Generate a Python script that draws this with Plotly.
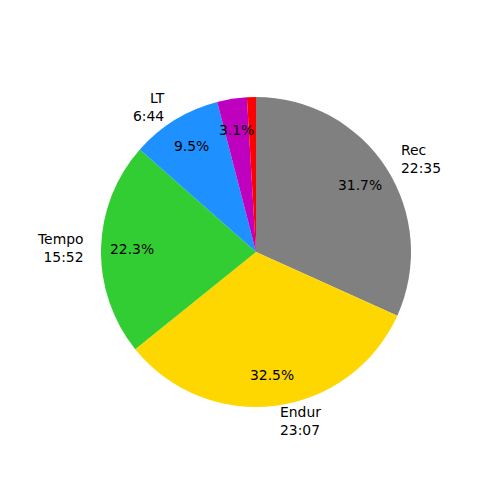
import math
import plotly.graph_objects as go

# Data
labels = ["Rec", "Endur", "Tempo", "LT", "", ""]
seconds = [1355, 1387, 952, 404, 132, 40]
colors = ["#808080", "#FFD700", "#32CD32", "#1E90FF", "#BF00BF", "#FF0000"]

total = sum(seconds)
pcts = [100.0 * s / total for s in seconds]

W = H = 500
R = 155
CX, CY = 256, 252
PAGE_OFFSET = 8  # default body margin of the html page
ml, mt = CX - R - PAGE_OFFSET, CY - R - PAGE_OFFSET
mr, mb = W - (CX + R) + PAGE_OFFSET, H - (CY + R) + PAGE_OFFSET

fig = go.Figure(go.Pie(
    values=seconds,
    labels=[f"s{i}" for i in range(len(seconds))],
    marker=dict(colors=colors, line=dict(width=0)),
    sort=False,
    direction="clockwise",
    rotation=0,
    textinfo="none",
    hoverinfo="skip",
    showlegend=False,
    domain=dict(x=[0, 1], y=[0, 1]),
))

FONT = dict(family="DejaVu Sans", size=13.9, color="black")
annotations = []
cum = 0.0
for lab, s, p in zip(labels, seconds, pcts):
    frac_mid = (cum + s / 2) / total
    cum += s
    theta = 2 * math.pi * frac_mid
    sx, sy = math.sin(theta), math.cos(theta)
    if p >= 3:
        annotations.append(dict(
            x=0.5 + 0.5 * 0.8 * sx, y=0.5 + 0.5 * 0.8 * sy,
            xref="paper", yref="paper", text=f"{p:.1f}%",
            showarrow=False, xanchor="center", yanchor="middle", font=FONT))
    if lab:
        mm, ss = divmod(s, 60)
        side = "left" if sx > 0 else "right"
        annotations.append(dict(
            x=0.5 + 0.5 * 1.1 * sx, y=0.5 + 0.5 * 1.1 * sy,
            xref="paper", yref="paper", text=f"{lab}<br>{mm}:{ss:02d}",
            showarrow=False, xanchor=side, align=side, yanchor="middle", font=FONT))

fig.update_layout(
    width=W, height=H,
    margin=dict(l=ml, r=mr, t=mt, b=mb, pad=0),
    paper_bgcolor="white", plot_bgcolor="white",
    annotations=annotations,
)

fig.write_html("out.html")
